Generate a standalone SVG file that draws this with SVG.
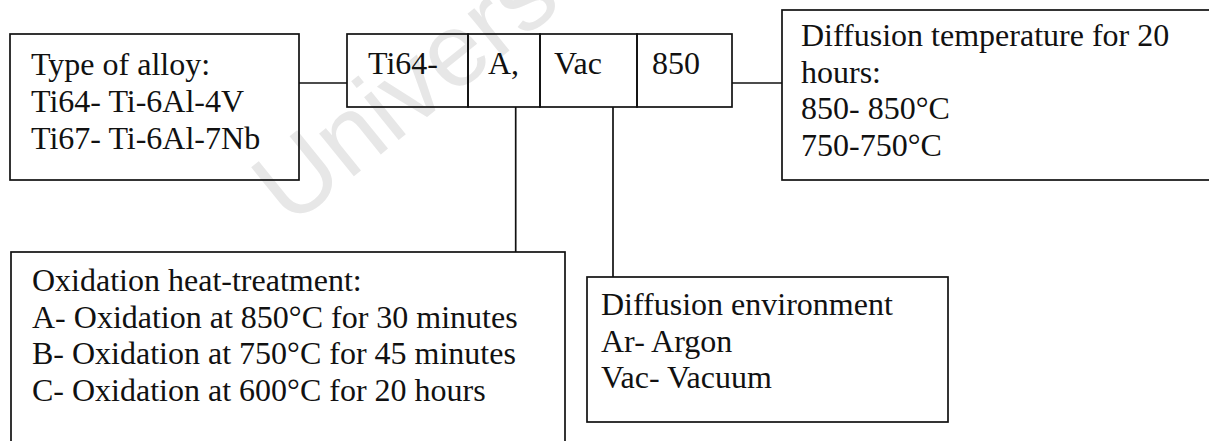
<svg xmlns="http://www.w3.org/2000/svg" width="1209" height="441" viewBox="0 0 1209 441">
<style>
.box{fill:none;stroke:#111;stroke-width:1.7}
.con{fill:none;stroke:#111;stroke-width:1.7}
.t{font-family:"Liberation Serif","Times New Roman",serif;font-size:32px;fill:#111}
.wm{font-family:"Liberation Sans",Arial,sans-serif;font-size:104px;fill:#e7e7e7}
</style>
<rect width="1209" height="441" fill="#fff"/>
<text class="wm" transform="translate(290 228) rotate(-39)">Univers</text>
<g id="connectors">
<path class="con" d="M299 83H347"/>
<path class="con" d="M732 83H782"/>
<path class="con" d="M515.7 107V252"/>
<path class="con" d="M613 107V277"/>
</g>
<g id="alloy">
<rect class="box" x="10" y="34" width="289" height="146"/>
<text class="t" x="31" y="74.5">Type of alloy:</text>
<text class="t" x="31" y="111.5">Ti64- Ti-6Al-4V</text>
<text class="t" x="31" y="148.5">Ti67- Ti-6Al-7Nb</text>
</g>
<g id="code-alloy">
<rect class="box" x="347" y="34" width="121" height="73"/>
<text class="t" x="368" y="73.5">Ti64-</text>
</g>
<g id="code-oxidation">
<rect class="box" x="468" y="34" width="72" height="73"/>
<text class="t" x="488" y="73.5">A,</text>
</g>
<g id="code-environment">
<rect class="box" x="540" y="34" width="97" height="73"/>
<text class="t" x="554" y="73.5">Vac</text>
</g>
<g id="code-temperature">
<rect class="box" x="637" y="34" width="95" height="73"/>
<text class="t" x="652" y="73.5">850</text>
</g>
<g id="temperature">
<rect class="box" x="782" y="10" width="440" height="170"/>
<text class="t" x="801" y="46">Diffusion temperature for 20</text>
<text class="t" x="801" y="82.5">hours:</text>
<text class="t" x="801" y="119">850- 850°C</text>
<text class="t" x="801" y="155.5">750-750°C</text>
</g>
<g id="oxidation">
<rect class="box" x="11" y="252" width="554" height="220"/>
<text class="t" x="32" y="291">Oxidation heat-treatment:</text>
<text class="t" x="32" y="327.5">A- Oxidation at 850°C for 30 minutes</text>
<text class="t" x="32" y="364">B- Oxidation at 750°C for 45 minutes</text>
<text class="t" x="32" y="400.5">C- Oxidation at 600°C for 20 hours</text>
</g>
<g id="environment">
<rect class="box" x="587" y="277" width="361" height="145"/>
<text class="t" x="601" y="315">Diffusion environment</text>
<text class="t" x="601" y="351.5">Ar- Argon</text>
<text class="t" x="601" y="388">Vac- Vacuum</text>
</g>
</svg>
